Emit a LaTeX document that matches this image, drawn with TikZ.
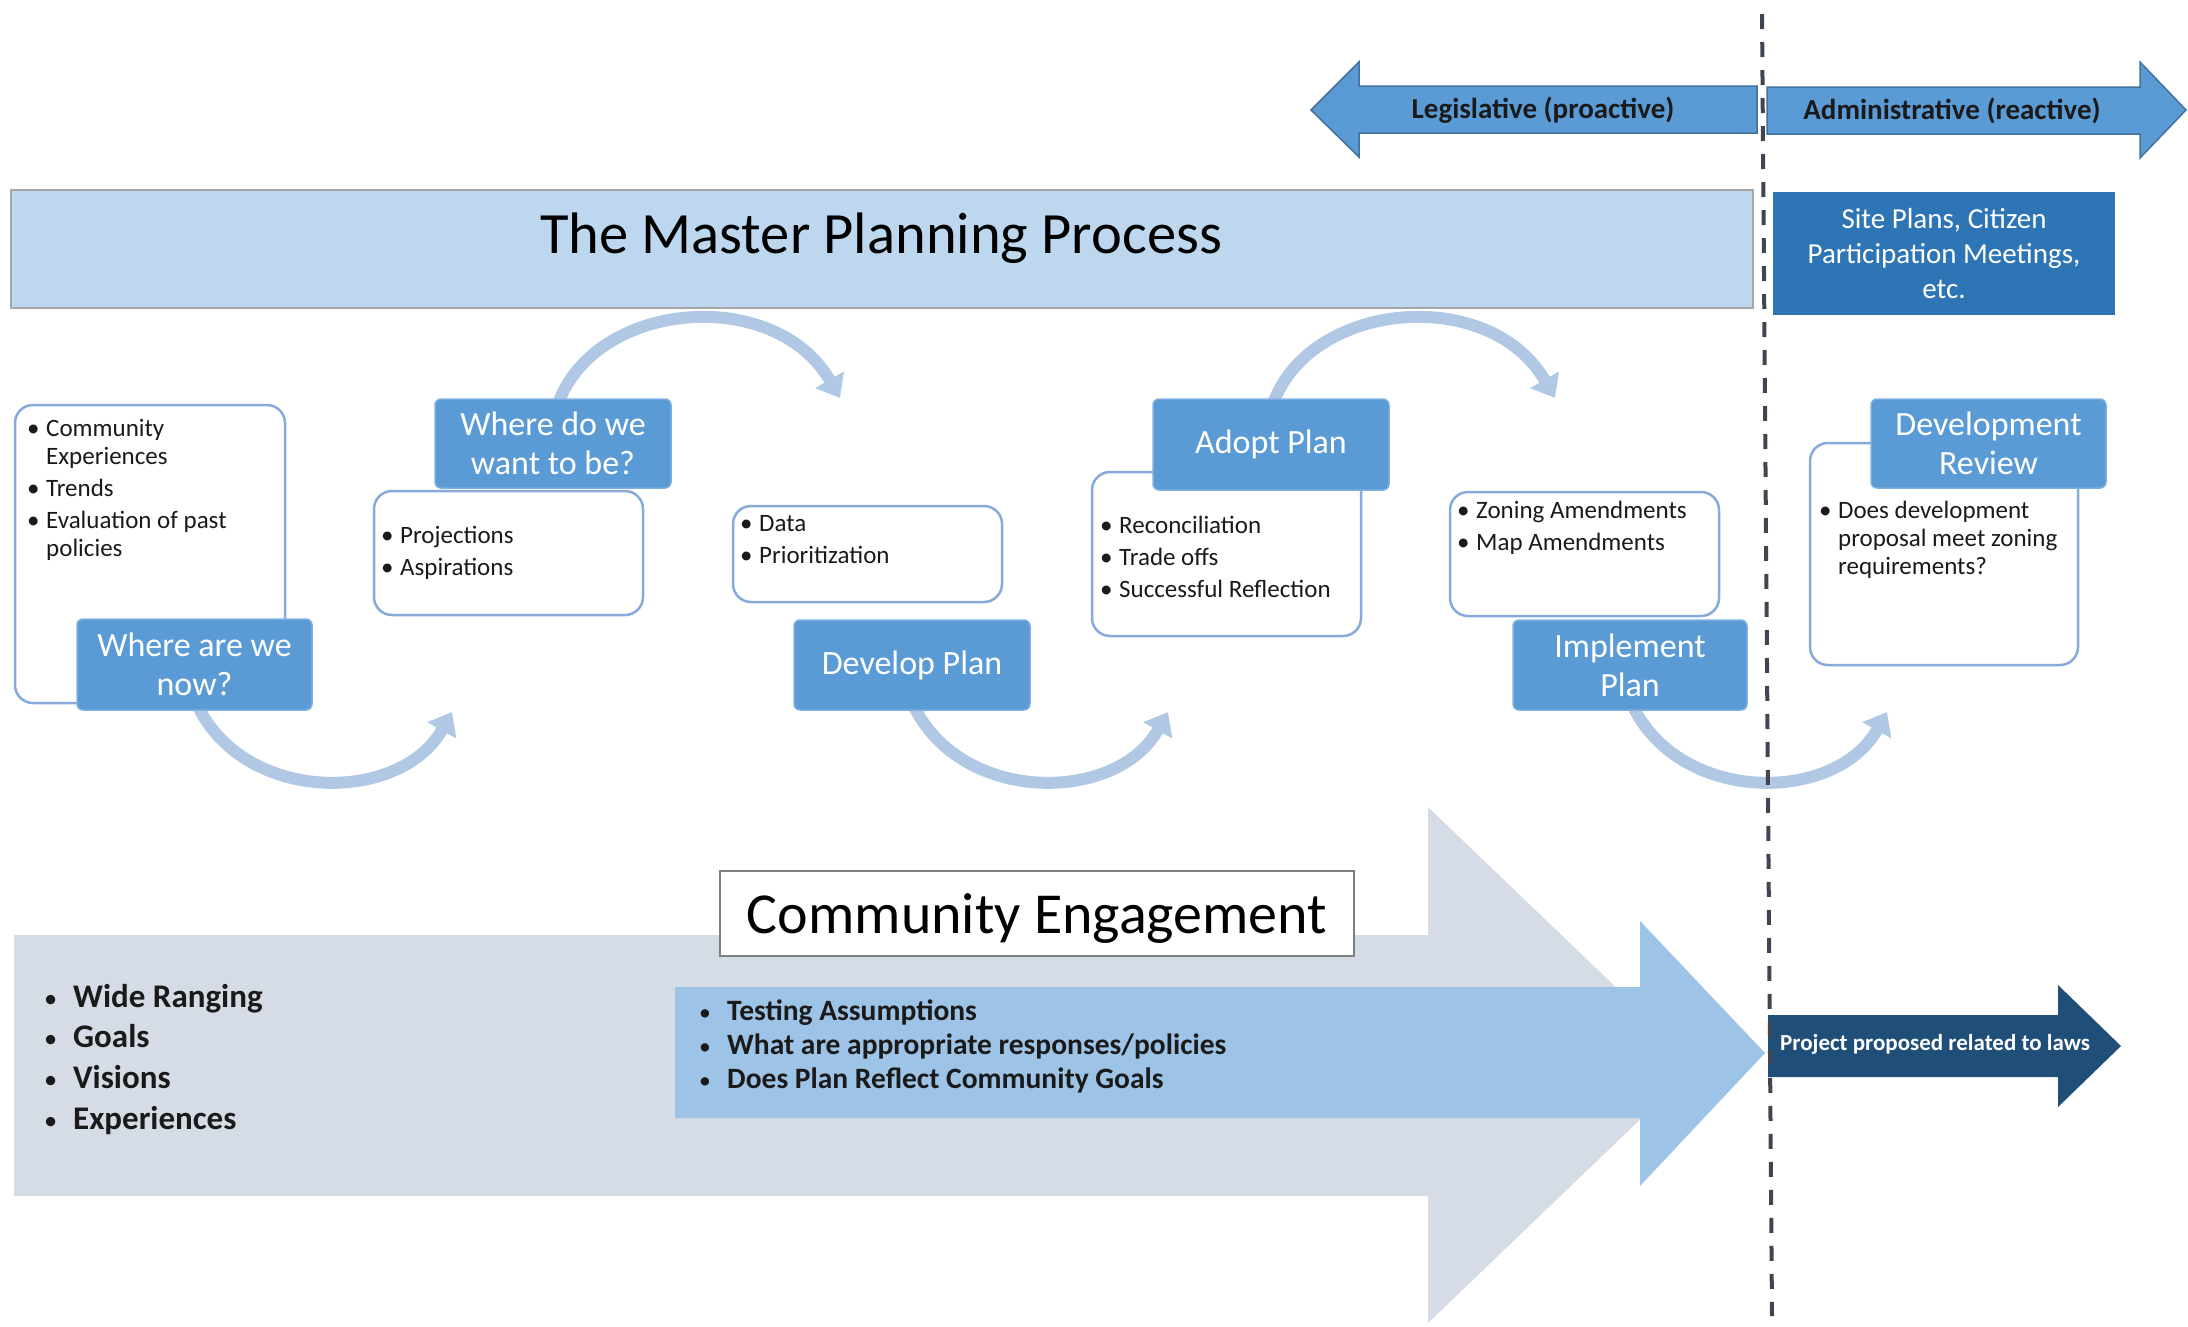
\documentclass[tikz,border=0pt]{standalone}
\usepackage{fontspec}
\setmainfont{Carlito}
\usetikzlibrary{arrows.meta}
\definecolor{lblblue}{HTML}{5B9BD5}
\definecolor{lbledge}{HTML}{7DB0E0}
\definecolor{boxedge}{HTML}{86AADB}
\definecolor{bannerfill}{HTML}{BDD7EE}
\definecolor{banneredge}{HTML}{A6A6A6}
\definecolor{siteblue}{HTML}{2E75B6}
\definecolor{arrowedge}{HTML}{41719C}
\definecolor{flowc}{HTML}{B1C8E5}
\definecolor{greyarrow}{HTML}{D6DCE5}
\definecolor{midblue}{HTML}{9DC3E6}
\definecolor{navyc}{HTML}{1F4E79}
\definecolor{dashc}{HTML}{3F4650}
\definecolor{txtdark}{HTML}{1A1A1A}
\definecolor{ceedge}{HTML}{7F7F7F}
\newcommand{\bx}[1]{\makebox[#1][l]{\hspace{-1pt}\textbullet}}
\newcommand{\bs}[1]{\makebox[#1][l]{\mdseries\hspace{2pt}\scalebox{0.8}{\textbullet}}}
\newcommand{\bi}{\bx{18pt}}
\newcommand{\bh}{\hspace{18pt}}
\begin{document}
\begin{tikzpicture}[x=1pt,y=-1pt,
  wbox/.style={draw=boxedge, line width=2.5pt, fill=white, rounded corners=18pt, inner sep=0pt},
  lbl/.style={fill=lblblue, draw=lbledge, line width=1.5pt, rounded corners=6pt, text=white, align=center, inner sep=0pt, font=\fontsize{34}{39}\selectfont},
  bul/.style={inner sep=0pt, anchor=base west, font=\fontsize{25}{28}\selectfont, text=txtdark},
  flow/.style={draw=flowc, line width=12pt, -{Triangle[width=32pt,length=21pt]}},
  bigarrowtext/.style={inner sep=0pt, anchor=base west, text=txtdark},
]
\useasboundingbox (0,0) rectangle (2188,1326);

% ---- bottom big arrows ----
\fill[greyarrow] (14,935) -- (1428,935) -- (1428,807) -- (1697,1065) -- (1428,1323) -- (1428,1196) -- (14,1196) -- cycle;
\fill[midblue] (675,987) -- (1640,987) -- (1640,921) -- (1765,1053) -- (1640,1186) -- (1640,1118) -- (675,1118) -- cycle;
\fill[navyc] (1768,1015) -- (2058,1015) -- (2058,985) -- (2121,1046) -- (2058,1107) -- (2058,1077) -- (1768,1077) -- cycle;

\node[draw=ceedge, line width=2pt, fill=white, minimum width=634pt, minimum height=85pt, inner sep=0pt] (ce) at (1037,913.5) {};
\node[inner sep=0pt, font=\fontsize{58}{60}\selectfont] (cetext) at (1037,919) {Community Engagement};

\node[bigarrowtext, font=\bfseries\fontsize{33}{40.7}\selectfont] (greylist) at (42,1007)
 {\begin{tabular}[t]{@{}l@{}}\bs{31pt}Wide Ranging\\\bs{31pt}Goals\\\bs{31pt}Visions\\\bs{31pt}Experiences\end{tabular}};
\node[bigarrowtext, font=\bfseries\fontsize{29.5}{34}\selectfont] (bluelist) at (697,1020)
 {\begin{tabular}[t]{@{}l@{}}\bs{30pt}Testing Assumptions\\\bs{30pt}What are appropriate responses/policies\\\bs{30pt}Does Plan Reflect Community Goals\end{tabular}};
\node[inner sep=0pt, text=white, font=\bfseries\fontsize{23}{26}\selectfont] (proj) at (1935,1044) {Project proposed related to laws};

% ---- banner ----
\node[draw=banneredge, fill=bannerfill, line width=2pt, minimum width=1742pt, minimum height=118pt, inner sep=0pt] (banner) at (882,249) {};
\node[anchor=base, inner sep=0pt, font=\fontsize{58.5}{60}\selectfont] (title) at (881,253) {The Master Planning Process};
\node[fill=siteblue, minimum width=342pt, minimum height=123pt, text=white, align=center, inner sep=0pt,
      font=\fontsize{29}{35}\selectfont] (site) at (1944,253.5) {Site Plans, Citizen\\Participation Meetings,\\etc.};

% ---- legislative / administrative arrows ----
\filldraw[fill=lblblue, draw=arrowedge, line width=1.5pt] (1311,110) -- (1359,62) -- (1359,86) -- (1757,86) -- (1757,133) -- (1359,133) -- (1359,157) -- cycle;
\filldraw[fill=lblblue, draw=arrowedge, line width=1.5pt] (1767,87) -- (2140,87) -- (2140,62) -- (2186,110) -- (2140,158) -- (2140,134) -- (1767,134) -- cycle;
\node[inner sep=0pt, text=txtdark, font=\bfseries\fontsize{29}{32}\selectfont] (leg) at (1543,110) {Legislative (proactive)};
\node[inner sep=0pt, text=txtdark, font=\bfseries\fontsize{29}{32}\selectfont] (adm) at (1952,111) {Administrative (reactive)};

% ---- flow arcs (drawn first, behind boxes) ----
\coordinate (u1s) at (558,404);  \coordinate (u1e) at (840,398);
\coordinate (u2s) at (1273,404); \coordinate (u2e) at (1555,398);
\coordinate (l1s) at (195,700);  \coordinate (l1e) at (452,712);
\coordinate (l2s) at (911,700);  \coordinate (l2e) at (1168,712);
\coordinate (l3s) at (1630,700); \coordinate (l3e) at (1887,712);
\draw[flow] (u1s) .. controls +(37,-104) and +(-65,-113) .. (u1e);
\draw[flow] (u2s) .. controls +(37,-104) and +(-65,-113) .. (u2e);
\draw[flow] (l1s) .. controls +(45,105) and +(-52,93) .. (l1e);
\draw[flow] (l2s) .. controls +(45,105) and +(-52,93) .. (l2e);
\draw[flow] (l3s) .. controls +(45,105) and +(-52,93) .. (l3e);

% ---- white boxes ----
\node[wbox, minimum width=270pt, minimum height=298pt] (bA) at (150,554) {};
\node[wbox, minimum width=269pt, minimum height=124pt] (bB) at (508.5,553) {};
\node[wbox, minimum width=269pt, minimum height=96pt]  (bC) at (867.5,554) {};
\node[wbox, minimum width=269pt, minimum height=164pt] (bD) at (1226.5,554) {};
\node[wbox, minimum width=269pt, minimum height=124pt] (bE) at (1584.5,554) {};
\node[wbox, minimum width=268pt, minimum height=222pt] (bF) at (1944,554) {};

\node[bul] (tA) at (28,436) {\begin{tabular}[t]{@{}l@{}}\bi Community\\\bh Experiences\\[4pt]\bi Trends\\[4pt]\bi Evaluation of past\\\bh policies\end{tabular}};
\node[bul] (tB) at (382,543) {\begin{tabular}[t]{@{}l@{}}\bi Projections\\[4pt]\bi Aspirations\end{tabular}};
\node[bul] (tC) at (741,531) {\begin{tabular}[t]{@{}l@{}}\bi Data\\[4pt]\bi Prioritization\end{tabular}};
\node[bul] (tD) at (1101,533) {\begin{tabular}[t]{@{}l@{}}\bi Reconciliation\\[4pt]\bi Trade offs\\[4pt]\bi Successful Reflection\end{tabular}};
\node[bul] (tE) at (1458,518) {\begin{tabular}[t]{@{}l@{}}\bi Zoning Amendments\\[4pt]\bi Map Amendments\end{tabular}};
\node[bul] (tF) at (1820,518) {\begin{tabular}[t]{@{}l@{}}\bi Does development\\\bh proposal meet zoning\\\bh requirements?\end{tabular}};

% ---- blue labels ----
\node[lbl, minimum width=235pt, minimum height=91pt] (lA) at (194.5,664.5) {Where are we\\now?};
\node[lbl, minimum width=236pt, minimum height=89pt] (lB) at (553,443.5) {Where do we\\want to be?};
\node[lbl, minimum width=236pt, minimum height=90pt] (lC) at (912,665) {Develop Plan};
\node[lbl, minimum width=236pt, minimum height=91pt] (lD) at (1271,444.5) {Adopt Plan};
\node[lbl, minimum width=234pt, minimum height=90pt] (lE) at (1630,665) {Implement\\Plan};
\node[lbl, minimum width=235pt, minimum height=89pt] (lF) at (1988.5,443.5) {Development\\Review};

% ---- dashed divider ----
\coordinate (dtop) at (1762,14);
\coordinate (dbot) at (1772,1316);
\draw[dashc, line width=4pt, dash pattern=on 15pt off 13pt] (dtop) -- (dbot);
\end{tikzpicture}
\end{document}
